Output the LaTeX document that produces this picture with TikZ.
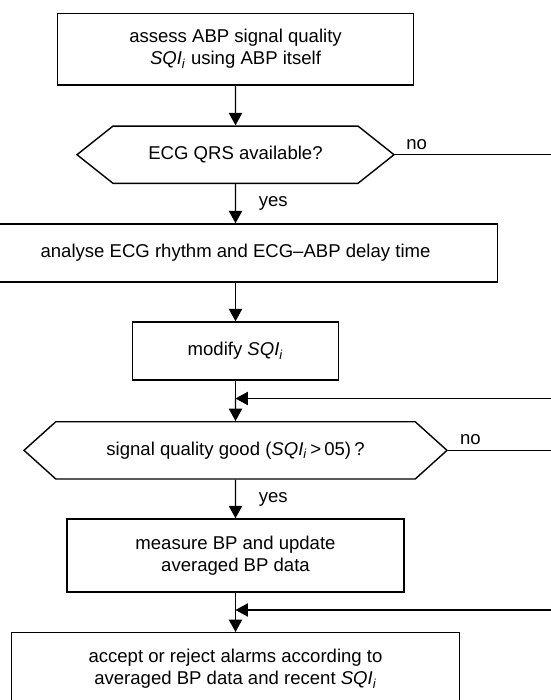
\documentclass[tikz,border=0pt]{standalone}
\usepackage{fontspec}
\setmainfont{Liberation Sans}
\usepackage{tikz}
\usetikzlibrary{positioning, arrows.meta, shapes.symbols}
\newcommand{\sqival}{\textit{SQI}\textsubscript{\textit{i}}}
\tikzset{
  procbox/.style={draw, line width=1pt, minimum width=#1, align=center, inner sep=0pt},
  testbox/.style={draw, line width=1pt, signal, signal to=west and east,
    minimum width=#1, minimum height=1.43cm, inner sep=0pt},
  flowarrow/.style={-{Triangle[length=0.31cm, width=0.33cm]}, line width=1pt},
  flowline/.style={line width=1pt}
}

\begin{document}
\begin{tikzpicture}[font=\fontsize{13.2}{15.7}\selectfont]
        \useasboundingbox (0,0) rectangle (13.775,-17.5);
        \node[procbox=8.91cm, minimum height=1.79cm] (assess) at (5.8875,-1.229)
          {assess ABP signal quality\\ \sqival\ using ABP itself};
        \node[testbox=7.925cm, signal pointer angle=77] (ecgtest) at (5.8875,-3.8675)
          {ECG QRS available?};
        \node[procbox=13.1cm, minimum height=1.45cm] (analyse) at (5.8875,-6.325)
          {analyse ECG rhythm and ECG--ABP delay time};
        \node[procbox=5.15cm, minimum height=1.45cm] (modify) at (5.8875,-8.775) {modify \sqival};
        \coordinate (joinone) at (5.8875,-9.9625);
        \node[testbox=10.575cm, signal pointer angle=84] (sqitest) at (5.8875,-11.259)
          {signal quality good (\sqival\,{>}\,05)\,?};
        \node[procbox=8.425cm, minimum height=1.825cm] (measure) at (5.8875,-13.8875)
          {measure BP and update\\ averaged BP data};
        \coordinate (jointwo) at (5.8875,-15.25);
        \node[procbox=11.19cm, minimum height=1.815cm] (alarms) at (5.8875,-16.725)
          {accept or reject alarms according to\\ averaged BP data and recent \sqival};
        % loose ends at the right edge
        \coordinate (ecgno) at (14,-3.8675);
        \coordinate (sqino) at (14,-11.259);
        \coordinate (backone) at (14,-9.9625);
        \coordinate (backtwo) at (14,-15.25);

        \draw[flowarrow] (assess) -- (ecgtest);
        \draw[flowarrow] (ecgtest) -- node[right=0.45cm] {yes} (analyse);
        \draw[flowarrow] (analyse) -- (modify);
        \draw[flowline] (modify) -- (joinone);
        \draw[flowarrow] (joinone) -- (sqitest);
        \draw[flowarrow] (sqitest) -- node[right=0.45cm] {yes} (measure);
        \draw[flowline] (measure) -- (jointwo);
        \draw[flowarrow] (jointwo) -- (alarms);
        \draw[flowline] (ecgtest.east) -- node[above, pos=0.13] {no} (ecgno);
        \draw[flowline] (sqitest.east) -- node[above, pos=0.2] {no} (sqino);
        \draw[flowarrow] (backone) -- (joinone);
        \draw[flowarrow] (backtwo) -- (jointwo);
      \end{tikzpicture}
\end{document}
